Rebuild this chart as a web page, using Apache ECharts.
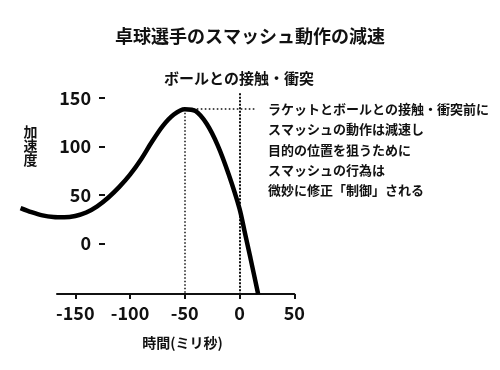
<!DOCTYPE html>
<html>
<head>
<meta charset="utf-8">
<script src="https://cdn.jsdelivr.net/npm/echarts@6/dist/echarts.min.js"></script>
<style>
html,body{margin:0;padding:0;background:#fff;}
#c{width:500px;height:370px;}
</style>
</head>
<body>
<div id="c"></div>
<script>
// ---- data ----
const times = [-200,-190,-180,-170,-160,-150,-140,-130,-120,-110,-100,-90,-80,-70,-60,-50,-40,-30,-20,-10,0,5,10,17];
const accel = [36.5,32.3,29,27.3,27,28.4,32,38.4,47.2,58.1,71,86.7,104.9,121.3,133,138.5,136.5,123.5,101.5,71.7,36,10.5,-15,-52];
const xTicks = [-150,-100,-50,0,50];
const yTicks = [0,50,100,150];
const peakTime = -50, peakValue = 138.5;
const contactTime = 0, contactTop = 155;
const peakGuideEnd = 15;
const dataXRange = [-200, 50];
const axisXRange = [-166.7, 50];
const yRange = [-52, 160];
const titleText = '卓球選手のスマッシュ動作の減速';
const contactLabel = 'ボールとの接触・衝突';
const noteLines = ['ラケットとボールとの接触・衝突前に','スマッシュの動作は減速し','目的の位置を狙うために','スマッシュの行為は','微妙に修正「制御」される'];
const xName = '時間(ミリ秒)';
const yName = '加速度';

const FONT = '"Noto Sans CJK JP", "Noto Sans", sans-serif';
const INK = '#111';
const PX_PER_UNIT = 237.25 / (axisXRange[1] - axisXRange[0]);
const RIGHT = 205.75;
const dataLeft = 500 - RIGHT - PX_PER_UNIT * (dataXRange[1] - dataXRange[0]);
const TOP = 88.3, BOTTOM = 76;

const chart = echarts.init(document.getElementById('c'), null, {renderer:'canvas'});
chart.setOption({
  backgroundColor:'#fff',
  animation:false,
  title:[
    {text:titleText, left:'center', top:27, padding:0,
     textStyle:{fontFamily:FONT, fontSize:18, fontWeight:'bold', color:INK}},
    {text:contactLabel, left:239, textAlign:'center', top:71, padding:0,
     textStyle:{fontFamily:FONT, fontSize:15, fontWeight:'bold', color:INK}},
    {text:noteLines.join('\n'), left:268, top:99, padding:0,
     textStyle:{fontFamily:FONT, fontSize:13, fontWeight:'bold', color:INK, lineHeight:20.25}},
    {text:yName.split('').join('\n'), left:30.5, textAlign:'center', top:125, padding:0,
     textStyle:{fontFamily:FONT, fontSize:14, fontWeight:'bold', color:INK, lineHeight:14}},
    {text:xName, left:182.5, textAlign:'center', top:336, padding:0,
     textStyle:{fontFamily:FONT, fontSize:14, fontWeight:'bold', color:INK}}
  ],
  grid:[
    {left:dataLeft, right:RIGHT, top:TOP, bottom:BOTTOM, containLabel:false},
    {left:57, right:RIGHT, top:TOP, bottom:BOTTOM, containLabel:false}
  ],
  xAxis:[
    {type:'value', gridIndex:0, min:dataXRange[0], max:dataXRange[1],
     axisLine:{show:false, onZero:false}, axisTick:{show:false}, axisLabel:{show:false}, splitLine:{show:false}},
    {type:'value', gridIndex:1, min:axisXRange[0], max:axisXRange[1],
     axisLine:{show:true, onZero:false, lineStyle:{color:INK, width:2}},
     axisTick:{show:true, customValues:xTicks, length:5, lineStyle:{color:INK, width:2}},
     axisLabel:{customValues:xTicks, margin:10, fontFamily:FONT, fontSize:18, fontWeight:'bold', color:INK},
     splitLine:{show:false}}
  ],
  yAxis:[
    {type:'value', gridIndex:0, min:yRange[0], max:yRange[1], offset:dataLeft - 105,
     axisLine:{show:false, onZero:false},
     axisTick:{show:true, customValues:yTicks, length:6, lineStyle:{color:INK, width:2}},
     axisLabel:{customValues:yTicks, margin:14, fontFamily:FONT, fontSize:18, fontWeight:'bold', color:INK},
     splitLine:{show:false}},
    {type:'value', gridIndex:1, min:yRange[0], max:yRange[1], show:false,
     axisLine:{show:false, onZero:false}, axisTick:{show:false}, axisLabel:{show:false}, splitLine:{show:false}}
  ],
  series:[{
    type:'line',
    xAxisIndex:0, yAxisIndex:0,
    data:times.map((t,i)=>[t, accel[i]]),
    smooth:0.3,
    showSymbol:false,
    symbol:'none',
    z:3,
    lineStyle:{color:'#000', width:4.5, cap:'butt'},
    markLine:{
      silent:true, symbol:'none', z:1,
      label:{show:false},
      data:[
        [{coord:[peakTime, peakValue], lineStyle:{type:[1.5,2], width:1.5, color:INK}},
         {coord:[peakTime, yRange[0]]}],
        [{coord:[peakTime, peakValue], lineStyle:{type:[1.6,2.4], width:1.5, color:INK}},
         {coord:[peakGuideEnd, peakValue]}],
        [{coord:[contactTime, contactTop], lineStyle:{type:[2,1.5], width:2, color:INK}},
         {coord:[contactTime, yRange[0]]}]
      ]
    }
  }]
});
</script>
</body>
</html>
